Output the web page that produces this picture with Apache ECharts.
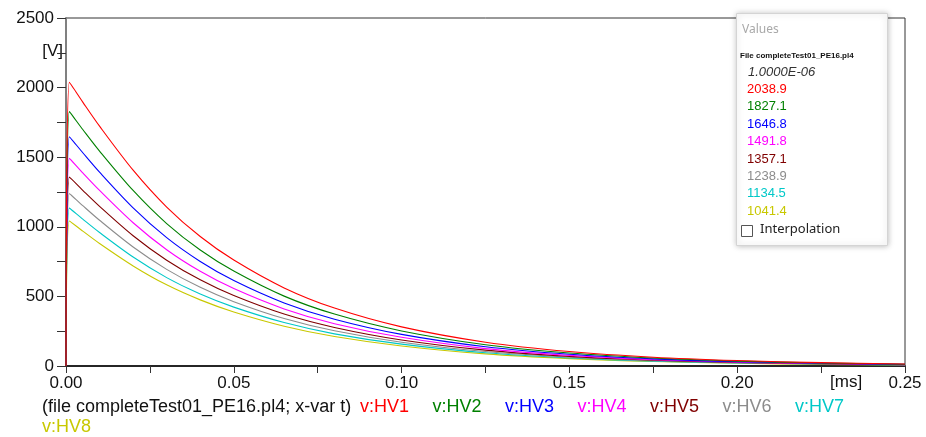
<!DOCTYPE html>
<html>
<head>
<meta charset="utf-8">
<script src="https://cdn.jsdelivr.net/npm/echarts@6/dist/echarts.min.js"></script>
<style>
  html, body { margin: 0; padding: 0; background: #fff; }
  #chart { width: 926px; height: 437px; }
</style>
</head>
<body>
<div id="chart"></div>
<script>
// time axis in ms
const timeMs = [0, 0.001, 0.005, 0.01, 0.02, 0.03, 0.04, 0.05, 0.065, 0.08, 0.10, 0.125, 0.15, 0.175, 0.20, 0.225, 0.25]

// voltages [V]
const hv1 = [0, 2038.9, 1896, 1723, 1407, 1142, 930, 761, 561, 416, 281, 171, 104, 63, 39, 24, 14]
const hv2 = [0, 1827.1, 1699, 1544, 1261, 1023, 833, 682, 502, 373, 252, 153, 93, 57, 35, 22, 13]
const hv3 = [0, 1646.8, 1532, 1392, 1136, 922, 751, 614, 453, 336, 227, 138, 84, 51, 31, 20, 12]
const hv4 = [0, 1491.8, 1387, 1261, 1029, 835, 680, 556, 410, 304, 206, 125, 76, 46, 28, 18, 10]
const hv5 = [0, 1357.1, 1262, 1147, 936, 760, 619, 506, 373, 277, 187, 114, 69, 42, 26, 16, 9]
const hv6 = [0, 1238.9, 1152, 1047, 855, 694, 565, 462, 341, 253, 171, 104, 63, 38, 24, 15, 9]
const hv7 = [0, 1134.5, 1055, 959, 783, 635, 517, 423, 312, 231, 157, 95, 58, 35, 22, 14, 8]
const hv8 = [0, 1041.4, 969, 880, 719, 583, 475, 388, 286, 212, 144, 87, 53, 32, 20, 12, 7]

const seriesNames = ['v:HV1', 'v:HV2', 'v:HV3', 'v:HV4', 'v:HV5', 'v:HV6', 'v:HV7', 'v:HV8']
const seriesValues = [hv1, hv2, hv3, hv4, hv5, hv6, hv7, hv8]
const colors = ['#ff0000', '#008000', '#0000ff', '#ff00ff', '#800000', '#8c8c8c', '#00c8c8', '#c8c800']

// cursor readout box
const cursorTime = '1.0000E-06'
const cursorValues = ['2038.9', '1827.1', '1646.8', '1491.8', '1357.1', '1238.9', '1134.5', '1041.4']
const fileTitle = '(file completeTest01_PE16.pl4; x-var t)'

const font = 'Liberation Sans, Arial, sans-serif'

let chart = echarts.init(document.getElementById('chart'), null, { renderer: 'canvas' })

function getOption() {
  let series = seriesNames.map((name, i) => ({
    name: name,
    type: 'line',
    data: timeMs.map((t, j) => [t, seriesValues[i][j]]),
    showSymbol: false,
    smooth: 0.3,
    lineStyle: { width: 1.1, color: colors[i] },
    itemStyle: { color: colors[i] },
    z: 10 - i
  }))

  let legendItems = seriesNames.map((name, i) => ({ name: name, textStyle: { color: colors[i] } }))

  let boxTexts = cursorValues.map((v, i) => ({
    type: 'text',
    left: 747,
    top: 83 + i * 17.4,
    z: 101,
    style: { text: v, fill: colors[i], font: '13px ' + font }
  }))

  return {
    animation: false,
    title: {
      text: fileTitle,
      left: 42,
      top: 398,
      padding: 0,
      textStyle: { fontSize: 18, fontWeight: 'normal', color: '#111', fontFamily: font }
    },
    legend: [{
      data: legendItems.slice(0, 7),
      left: 355,
      top: 398,
      padding: 0,
      icon: 'none',
      itemWidth: 0,
      itemHeight: 14,
      itemGap: 18.5,
      selectedMode: false,
      textStyle: { fontSize: 18, fontFamily: font }
    }, {
      data: legendItems.slice(7),
      left: 37,
      top: 418,
      padding: 0,
      icon: 'none',
      itemWidth: 0,
      itemHeight: 14,
      selectedMode: false,
      textStyle: { fontSize: 18, fontFamily: font }
    }],
    grid: {
      left: 66, right: 21, top: 18, bottom: 71,
      show: true, borderColor: '#333', borderWidth: 1
    },
    xAxis: {
      type: 'value',
      min: 0, max: 0.25, interval: 0.025,
      axisLine: { lineStyle: { color: '#000', width: 1.5 } },
      axisTick: { length: 7, lineStyle: { color: '#333' } },
      axisLabel: {
        margin: 9,
        fontSize: 17, color: '#111', fontFamily: font,
        formatter: v => Math.round(v * 1000) % 50 === 0 ? v.toFixed(2) : ''
      },
      splitLine: { show: false }
    },
    yAxis: {
      type: 'value',
      min: 0, max: 2500, interval: 250,
      axisLine: { show: true, lineStyle: { color: '#808080', width: 2 } },
      axisTick: { show: true, length: 9, lineStyle: { color: '#333' } },
      axisLabel: {
        margin: 12,
        fontSize: 17, color: '#111', fontFamily: font,
        formatter: v => v % 500 === 0 ? String(v) : ''
      },
      splitLine: { show: false }
    },
    graphic: [
      { type: 'text', right: 926 - 63, top: 43, style: { text: '[V]', fill: '#111', font: '17px ' + font } },
      { type: 'text', left: 830, top: 374, style: { text: '[ms]', fill: '#111', font: '17px ' + font } },
      {
        type: 'rect', left: 736, top: 13, z: 100,
        shape: { width: 151, height: 232 },
        style: { fill: '#fff', stroke: '#d4d4d4', lineWidth: 1, shadowBlur: 6, shadowColor: 'rgba(0,0,0,0.25)' }
      },
      { type: 'text', left: 742, top: 24, z: 101, style: { text: 'Values', fill: '#a8a8a8', font: '12px Noto Sans, sans-serif' } },
      { type: 'text', left: 740, top: 52, z: 101, style: { text: 'File completeTest01_PE16.pl4', fill: '#111', font: 'bold 8px ' + font } },
      { type: 'text', left: 748, top: 66, z: 101, style: { text: cursorTime, fill: '#333', font: 'italic 13px ' + font } },
      ...boxTexts,
      {
        type: 'rect', left: 741, top: 225, z: 101,
        shape: { width: 11, height: 11 },
        style: { fill: '#fff', stroke: '#555', lineWidth: 1 }
      },
      { type: 'text', left: 760, top: 223, z: 101, style: { text: 'Interpolation', fill: '#222', font: '13px Noto Sans, sans-serif' } }
    ],
    series: series
  }
}

chart.setOption(getOption())
</script>
</body>
</html>
